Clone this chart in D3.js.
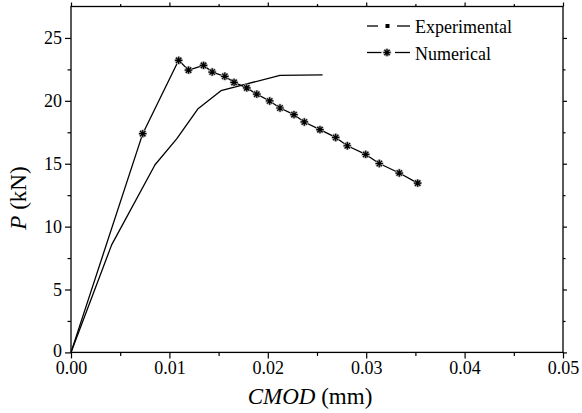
<!DOCTYPE html>
<html>
<head>
<meta charset="utf-8">
<script src="https://cdn.jsdelivr.net/npm/d3@7"></script>
<style>
  html, body { margin: 0; padding: 0; background: #fff; }
  svg { display: block; }
  svg text { font-family: "Liberation Serif", "Times New Roman", Times, "DejaVu Serif", serif; fill: #000; }
</style>
</head>
<body>
<svg id="chart" width="582" height="413"></svg>
<script>
// ---- Data ----
const expCMOD = [0, 0.00413, 0.00854, 0.01074, 0.01288, 0.01524, 0.02124, 0.02557];
const expP    = [0, 8.55, 14.92, 16.97, 19.35, 20.81, 22.03, 22.06];

const numCMOD = [0, 0.00729, 0.01094, 0.01194, 0.01347, 0.01435, 0.01563, 0.01657, 0.01786, 0.01888,
                 0.02019, 0.02124, 0.02266, 0.02371, 0.02530, 0.02690, 0.02808, 0.02995, 0.03133, 0.03336, 0.03523];
const numP    = [0, 17.39, 23.22, 22.44, 22.82, 22.29, 21.95, 21.47, 21.03, 20.53,
                 19.99, 19.43, 18.90, 18.32, 17.71, 17.09, 16.43, 15.74, 15.02, 14.26, 13.46];
const numMarked = numCMOD.map((d, i) => i > 0);

const xTicks = [0, 0.01, 0.02, 0.03, 0.04, 0.05];
const xTickLabels = ["0.00", "0.01", "0.02", "0.03", "0.04", "0.05"];
const yTicks = [0, 5, 10, 15, 20, 25];
const xMinor = [0.005, 0.015, 0.025, 0.035, 0.045];
const yMinor = [2.5, 7.5, 12.5, 17.5, 22.5];
const seriesNames = ["Experimental", "Numerical"];

// ---- Layout ----
const FONT = '"Liberation Serif", "Times New Roman", Times, "DejaVu Serif", serif';
const svg = d3.select("#chart");
const L = 71, R = 563, T = 6.5, B = 352.4;
const x = d3.scaleLinear().domain([0, 0.05]).range([L, R]);
const y = d3.scaleLinear().domain([0, 27.5]).range([B, T]);

const FS = 18;

svg.append("rect").attr("x", L).attr("y", T).attr("width", R - L).attr("height", B - T)
  .attr("fill", "none").attr("stroke", "#000").attr("stroke-width", 1.3);

function styleAxis(g) {
  g.attr("font-family", FONT).attr("font-size", FS);
  g.select(".domain").remove();
  g.selectAll(".tick line").attr("stroke", "#000").attr("stroke-width", 1.2);
  g.selectAll(".tick text").attr("fill", "#000");
}
const xAxis = d3.axisBottom(x).tickValues(xTicks).tickSize(6).tickPadding(3)
  .tickFormat((d, i) => xTickLabels[i]);
svg.append("g").attr("transform", `translate(0,${B})`).call(xAxis).call(styleAxis);
svg.append("g").attr("transform", `translate(0,${B})`)
  .call(d3.axisBottom(x).tickValues(xMinor).tickSize(3.5).tickFormat("")).call(styleAxis);

const yAxis = d3.axisLeft(y).tickValues(yTicks).tickSize(6).tickPadding(3).tickFormat(d3.format("d"));
const yg = svg.append("g").attr("transform", `translate(${L},0)`).call(yAxis).call(styleAxis);
yg.selectAll(".tick text").filter(d => d === 0).attr("dy", "0.22em");
svg.append("g").attr("transform", `translate(${L},0)`)
  .call(d3.axisLeft(y).tickValues(yMinor).tickSize(3.5).tickFormat("")).call(styleAxis);

svg.append("g").attr("transform", `translate(0,${T})`)
  .call(d3.axisTop(x).tickValues(xTicks).tickSize(4).tickFormat("")).call(styleAxis);
svg.append("g").attr("transform", `translate(0,${T})`)
  .call(d3.axisTop(x).tickValues(xMinor).tickSize(2.5).tickFormat("")).call(styleAxis);
svg.append("g").attr("transform", `translate(${R},0)`)
  .call(d3.axisRight(y).tickValues(yTicks).tickSize(4).tickFormat("")).call(styleAxis);
svg.append("g").attr("transform", `translate(${R},0)`)
  .call(d3.axisRight(y).tickValues(yMinor).tickSize(2.5).tickFormat("")).call(styleAxis);

// axis titles
const yt = svg.append("text").attr("transform", `translate(26,198) rotate(-90)`)
  .attr("text-anchor", "middle").attr("font-family", FONT).attr("font-size", 23);
yt.append("tspan").attr("font-style", "italic").text("P");
yt.append("tspan").text(" (kN)");

const xt = svg.append("text").attr("x", 310).attr("y", 404)
  .attr("text-anchor", "middle").attr("font-family", FONT).attr("font-size", 23);
xt.append("tspan").attr("font-style", "italic").text("CMOD");
xt.append("tspan").text(" (mm)");

// lines
const line = d3.line().x(d => x(d[0])).y(d => y(d[1]));
const expData = expCMOD.map((d, i) => [d, expP[i]]);
const numData = numCMOD.map((d, i) => [d, numP[i]]);

svg.append("path").datum(expData).attr("d", line)
  .attr("fill", "none").attr("stroke", "#000").attr("stroke-width", 1.3).attr("stroke-linejoin", "round");
svg.append("path").datum(numData).attr("d", line)
  .attr("fill", "none").attr("stroke", "#000").attr("stroke-width", 1.3).attr("stroke-linejoin", "round");

function starPath(cx, cy, r) {
  let p = "";
  for (let k = 0; k < 4; k++) {
    const a = k * Math.PI / 4;
    const dx = r * Math.cos(a), dy = r * Math.sin(a);
    p += `M${cx - dx},${cy - dy}L${cx + dx},${cy + dy}`;
  }
  return p;
}
const marks = numData.filter((d, i) => numMarked[i]);
svg.append("g").selectAll("path").data(marks).join("path")
  .attr("d", d => starPath(x(d[0]), y(d[1]), 4.2))
  .attr("stroke", "#aaa").attr("stroke-width", 2.4).attr("fill", "none");
svg.append("g").selectAll("path").data(marks).join("path")
  .attr("d", d => starPath(x(d[0]), y(d[1]), 3.7))
  .attr("stroke", "#000").attr("stroke-width", 1.2).attr("fill", "none");

// legend
const lg = svg.append("g").attr("font-family", FONT).attr("font-size", FS);
const ly1 = 26, ly2 = 52.5;
lg.append("line").attr("x1", 367).attr("x2", 378).attr("y1", ly1).attr("y2", ly1).attr("stroke", "#000").attr("stroke-width", 1.3);
lg.append("rect").attr("x", 385.5).attr("y", ly1 - 2).attr("width", 4).attr("height", 4).attr("fill", "#000");
lg.append("line").attr("x1", 397).attr("x2", 410).attr("y1", ly1).attr("y2", ly1).attr("stroke", "#000").attr("stroke-width", 1.3);
lg.append("text").attr("x", 415).attr("y", ly1 + 7).text(seriesNames[0]);

lg.append("line").attr("x1", 367).attr("x2", 381.5).attr("y1", ly2).attr("y2", ly2).attr("stroke", "#000").attr("stroke-width", 1.3);
lg.append("path").attr("d", starPath(387, ly2, 4.2)).attr("stroke", "#aaa").attr("stroke-width", 2.4).attr("fill", "none");
lg.append("path").attr("d", starPath(387, ly2, 3.6)).attr("stroke", "#000").attr("stroke-width", 1.2).attr("fill", "none");
lg.append("line").attr("x1", 395).attr("x2", 410).attr("y1", ly2).attr("y2", ly2).attr("stroke", "#000").attr("stroke-width", 1.3);
lg.append("text").attr("x", 415).attr("y", ly2 + 7).text(seriesNames[1]);
</script>
</body>
</html>
